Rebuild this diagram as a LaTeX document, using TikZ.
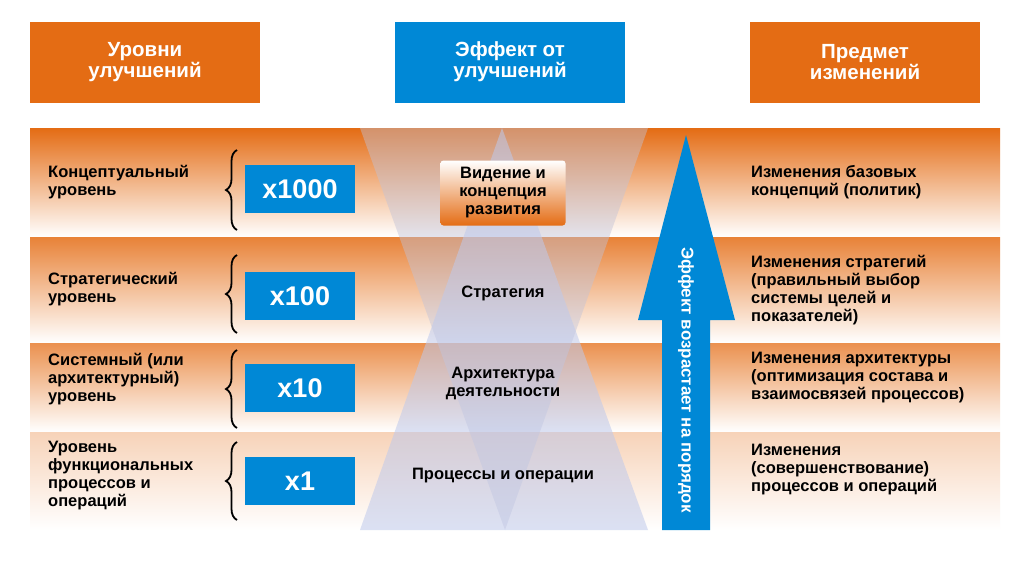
\documentclass[tikz,border=0pt]{standalone}
\usepackage{fontspec}
\setmainfont{Liberation Sans}
\usetikzlibrary{decorations.pathreplacing}
\definecolor{org}{RGB}{228,108,20}
\definecolor{blu}{RGB}{0,136,214}
\tikzset{
 hdr/.style={minimum width=230pt,minimum height=81pt,text=white,font=\bfseries\fontsize{20.5}{21}\selectfont,align=center,inner sep=0pt},
 num/.style={fill=blu,minimum width=110pt,minimum height=48pt,text=white,font=\bfseries\fontsize{27}{28}\selectfont,inner sep=0pt},
 lbl/.style={anchor=west,align=left,font=\bfseries\fontsize{16.5}{18}\selectfont,inner sep=0pt},
 mid/.style={align=center,font=\bfseries\fontsize{16.5}{18}\selectfont,inner sep=0pt},
 brc/.style={decorate,decoration={brace,amplitude=11pt},line width=1.8pt}
}
\begin{document}
\begin{tikzpicture}[x=1pt,y=-1pt]
\useasboundingbox (0,0) rectangle (1024,574);
\fill[white] (0,0) rectangle (1024,574);
% headers
\node[hdr,fill=org] (h1) at (145,62) {Уровни\\улучшений};
\node[hdr,fill=blu] (h2) at (510,62) {Эффект от\\улучшений};
\node[hdr,fill=org] (h3) at (865,62) {Предмет\\изменений};
% bands
\shade[top color=org,bottom color=white] (30,128) rectangle (1000,237);
\shade[top color=org!85,bottom color=white] (30,237) rectangle (1000,343);
\shade[top color=org!75,bottom color=white] (30,343) rectangle (1000,432);
\shade[top color=org!30,bottom color=white] (30,432) rectangle (1000,530);
% triangles
\fill[gray!80!blue!40,opacity=.45] (360,128) -- (648,128) -- (505,530) -- cycle;
\fill[cyan!40!blue!25,opacity=.55] (502,128) -- (648,530) -- (360,530) -- cycle;
% vision box
\node[mid,minimum width=125pt,minimum height=65pt,rounded corners=3pt,top color=white,bottom color=org] (v) at (503,193) {Видение и\\концепция\\развития};
\node[mid] (s) at (503,293) {Стратегия};
\node[mid] (a) at (503,383) {Архитектура\\деятельности};
\node[mid] (p) at (503,476) {Процессы и операции};
% arrow
\fill[blu] (662,530) -- (662,320) -- (638,320) -- (686,135) -- (735,320) -- (710,320) -- (710,530) -- cycle;
\node[rotate=-90,text=white,font=\bfseries\fontsize{17}{18}\selectfont] (ar) at (686,380) {Эффект возрастает на порядок};
% left labels
\node[lbl] (l1) at (48,182) {Концептуальный\\уровень};
\node[lbl] (l2) at (48,289) {Стратегический\\уровень};
\node[lbl] (l3) at (48,379) {Системный (или\\архитектурный)\\уровень};
\node[lbl] (l4) at (48,476) {Уровень\\функциональных\\процессов и\\операций};
% numbers
\node[num] (n1) at (300,189) {x1000};
\node[num] (n2) at (300,296) {x100};
\node[num] (n3) at (300,388) {x10};
\node[num] (n4) at (300,481) {x1};
\draw[brc] (237,230) -- (237,150);
\draw[brc] (237,333) -- (237,255);
\draw[brc] (237,428) -- (237,350);
\draw[brc] (237,520) -- (237,442);
% right labels
\node[lbl] (r1) at (751,182) {Изменения базовых\\концепций (политик)};
\node[lbl] (r2) at (751,290) {Изменения стратегий\\(правильный выбор\\системы целей и\\показателей)};
\node[lbl] (r3) at (751,378) {Изменения архитектуры\\(оптимизация состава и\\взаимосвязей процессов)};
\node[lbl] (r4) at (751,470) {Изменения\\(совершенствование)\\процессов и операций};
\end{tikzpicture}
\end{document}
